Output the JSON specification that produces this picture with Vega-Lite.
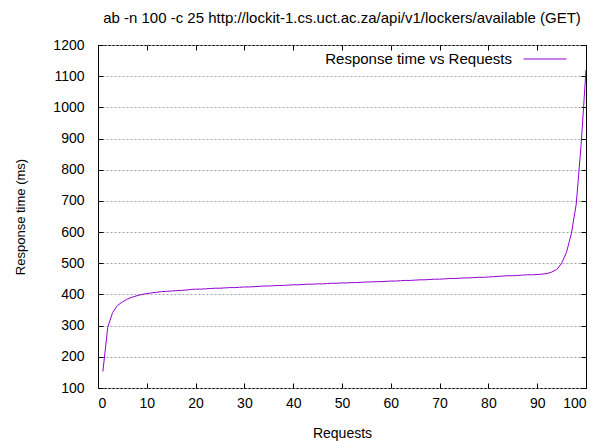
{
  "$schema": "https://vega.github.io/schema/vega-lite/v6.json",
  "width": 488,
  "height": 343,
  "autosize": "none",
  "padding": {"left": 98, "top": 45, "right": 21, "bottom": 53},
  "background": "white",
  "title": {
    "text": "ab -n 100 -c 25 http://lockit-1.cs.uct.ac.za/api/v1/lockers/available (GET)",
    "font": "Liberation Sans",
    "fontSize": 15,
    "fontWeight": "normal",
    "color": "black",
    "anchor": "middle",
    "offset": 11
  },
  "config": {
    "font": "Liberation Sans",
    "view": {"stroke": "black", "strokeWidth": 1},
    "axis": {
      "labelFont": "Liberation Sans",
      "titleFont": "Liberation Sans",
      "labelColor": "black",
      "titleColor": "black",
      "titleFontWeight": "normal",
      "labelFontSize": 14,
      "titleFontSize": 14,
      "domain": false,
      "tickColor": "black",
      "tickSize": -5,
      "labelPadding": 13,
      "format": "d"
    }
  },
  "data": {
    "values": [
      {"Requests": 1, "ms": 153}, {"Requests": 2, "ms": 295}, {"Requests": 3, "ms": 342},
      {"Requests": 4, "ms": 365}, {"Requests": 5, "ms": 376}, {"Requests": 6, "ms": 385},
      {"Requests": 7, "ms": 391}, {"Requests": 8, "ms": 396}, {"Requests": 9, "ms": 400},
      {"Requests": 10, "ms": 403}, {"Requests": 11, "ms": 405}, {"Requests": 12, "ms": 407},
      {"Requests": 13, "ms": 409}, {"Requests": 14, "ms": 410}, {"Requests": 15, "ms": 411},
      {"Requests": 16, "ms": 412}, {"Requests": 17, "ms": 413}, {"Requests": 18, "ms": 414},
      {"Requests": 19, "ms": 416}, {"Requests": 20, "ms": 417}, {"Requests": 21, "ms": 417},
      {"Requests": 22, "ms": 418}, {"Requests": 23, "ms": 419}, {"Requests": 24, "ms": 420},
      {"Requests": 25, "ms": 420}, {"Requests": 26, "ms": 421}, {"Requests": 27, "ms": 422},
      {"Requests": 28, "ms": 422}, {"Requests": 29, "ms": 423}, {"Requests": 30, "ms": 424},
      {"Requests": 31, "ms": 424}, {"Requests": 32, "ms": 425}, {"Requests": 33, "ms": 426},
      {"Requests": 34, "ms": 427}, {"Requests": 35, "ms": 427}, {"Requests": 36, "ms": 428},
      {"Requests": 37, "ms": 429}, {"Requests": 38, "ms": 429}, {"Requests": 39, "ms": 430},
      {"Requests": 40, "ms": 431}, {"Requests": 41, "ms": 431}, {"Requests": 42, "ms": 432},
      {"Requests": 43, "ms": 433}, {"Requests": 44, "ms": 433}, {"Requests": 45, "ms": 434},
      {"Requests": 46, "ms": 434}, {"Requests": 47, "ms": 435}, {"Requests": 48, "ms": 436},
      {"Requests": 49, "ms": 436}, {"Requests": 50, "ms": 437}, {"Requests": 51, "ms": 437},
      {"Requests": 52, "ms": 438}, {"Requests": 53, "ms": 438}, {"Requests": 54, "ms": 439},
      {"Requests": 55, "ms": 440}, {"Requests": 56, "ms": 440}, {"Requests": 57, "ms": 441},
      {"Requests": 58, "ms": 441}, {"Requests": 59, "ms": 442}, {"Requests": 60, "ms": 443},
      {"Requests": 61, "ms": 443}, {"Requests": 62, "ms": 444}, {"Requests": 63, "ms": 445},
      {"Requests": 64, "ms": 445}, {"Requests": 65, "ms": 446}, {"Requests": 66, "ms": 447},
      {"Requests": 67, "ms": 447}, {"Requests": 68, "ms": 448}, {"Requests": 69, "ms": 449},
      {"Requests": 70, "ms": 449}, {"Requests": 71, "ms": 450}, {"Requests": 72, "ms": 451},
      {"Requests": 73, "ms": 451}, {"Requests": 74, "ms": 452}, {"Requests": 75, "ms": 453},
      {"Requests": 76, "ms": 453}, {"Requests": 77, "ms": 454}, {"Requests": 78, "ms": 455},
      {"Requests": 79, "ms": 455}, {"Requests": 80, "ms": 456}, {"Requests": 81, "ms": 457},
      {"Requests": 82, "ms": 458}, {"Requests": 83, "ms": 459}, {"Requests": 84, "ms": 460},
      {"Requests": 85, "ms": 460}, {"Requests": 86, "ms": 461}, {"Requests": 87, "ms": 462},
      {"Requests": 88, "ms": 463}, {"Requests": 89, "ms": 463}, {"Requests": 90, "ms": 464},
      {"Requests": 91, "ms": 465}, {"Requests": 92, "ms": 467}, {"Requests": 93, "ms": 472},
      {"Requests": 94, "ms": 480}, {"Requests": 95, "ms": 500}, {"Requests": 96, "ms": 535},
      {"Requests": 97, "ms": 595}, {"Requests": 98, "ms": 690}, {"Requests": 99, "ms": 880},
      {"Requests": 100, "ms": 1120}
    ]
  },
  "layer": [
    {
      "mark": {"type": "line", "strokeWidth": 1, "clip": true},
      "encoding": {
        "x": {
          "field": "Requests", "type": "quantitative",
          "scale": {"domain": [0, 100], "nice": false, "zero": false},
          "axis": {"orient": "bottom", "values": [0,10,20,30,40,50,60,70,80,90,100], "grid": false, "title": "Requests", "titlePadding": 16}
        },
        "y": {
          "field": "ms", "type": "quantitative",
          "scale": {"domain": [100, 1200], "nice": false, "zero": false},
          "axis": {
            "orient": "left",
            "values": [100,200,300,400,500,600,700,800,900,1000,1100,1200],
            "grid": true, "gridColor": "#a0a0a0", "gridDash": [2, 2], "gridWidth": 1,
            "labelPadding": 19,
            "title": "Response time (ms)", "titleFontSize": 13, "titlePadding": 25
          }
        },
        "color": {
          "datum": "Response time vs Requests",
          "type": "nominal",
          "scale": {"range": ["#9400d3"]},
          "legend": {
            "title": null,
            "orient": "none",
            "legendX": 425,
            "legendY": -8,
            "symbolType": "stroke",
            "symbolSize": 1849,
            "symbolStrokeWidth": 1,
            "labelFontSize": 15,
            "labelFont": "Liberation Sans",
            "labelColor": "black",
            "labelAlign": "right",
            "labelOffset": -55,
            "labelLimit": 0
          }
        }
      }
    },
    {
      "mark": {"type": "line", "opacity": 0},
      "encoding": {
        "x": {
          "field": "Requests", "type": "quantitative",
          "axis": {"orient": "top", "values": [0,10,20,30,40,50,60,70,80,90,100], "labels": false, "grid": false, "title": null}
        },
        "y": {
          "field": "ms", "type": "quantitative",
          "axis": {"orient": "right", "values": [100,200,300,400,500,600,700,800,900,1000,1100,1200], "labels": false, "grid": false, "title": null}
        }
      }
    }
  ],
  "resolve": {"axis": {"x": "independent", "y": "independent"}}
}
